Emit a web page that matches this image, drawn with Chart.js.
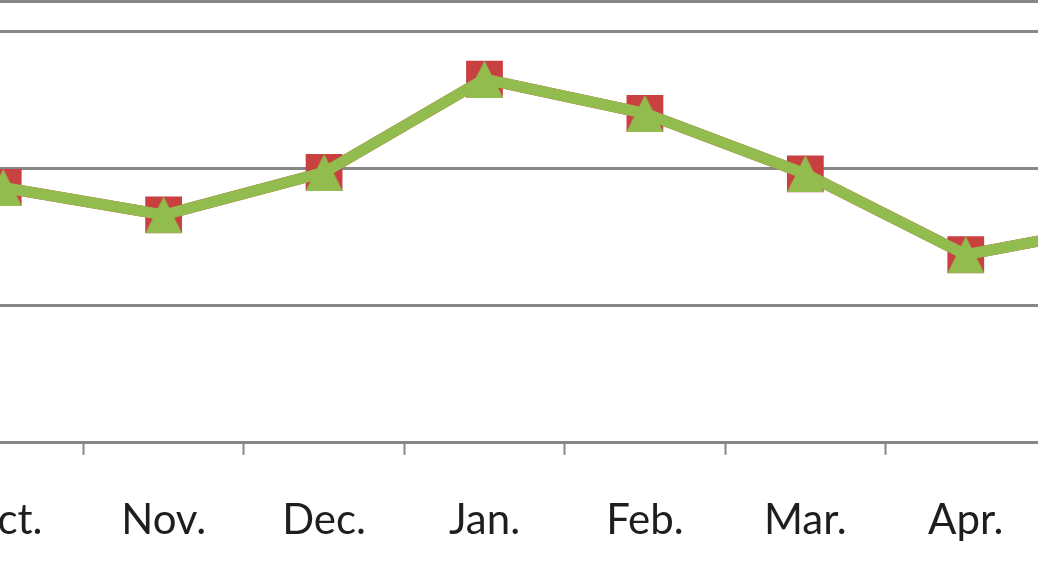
<!DOCTYPE html>
<html>
<head>
<meta charset="utf-8">
<script src="https://cdn.jsdelivr.net/npm/chart.js@4"></script>
<style>
    html, body { margin: 0; padding: 0; background: #fff; }
    #wrap { position: relative; width: 1038px; height: 576px; overflow: hidden; }
    #box { position: absolute; left: -77px; top: 0; width: 1284px; height: 615px; }
</style>
</head>
<body>
<div id="wrap"><div id="box"><canvas id="chart"></canvas></div></div>
<script>
const months = ['Oct.', 'Nov.', 'Dec.', 'Jan.', 'Feb.', 'Mar.', 'Apr.', 'May'];
const greenValues = [18.6, 16.6, 19.7, 26.5, 24.0, 19.6, 13.7, 15.9];
const redValues = [18.6, 16.6, 19.7, 26.5, 24.0, 19.6, 13.7, 15.9];
const yTop = 32.15;
const yStep = 10;

const colors = {
    green: '#92BC4E',
    red: '#C8403F',
    grid: '#868686',
    text: '#1E1E1E'
};

// triangle marker that fills the same box as the square one
function triangleMarker(size, color) {
    const c = document.createElement('canvas');
    c.width = size;
    c.height = size;
    const g = c.getContext('2d');
    g.fillStyle = color;
    g.beginPath();
    g.moveTo(0, size);
    g.lineTo(size / 2, 0);
    g.lineTo(size, size);
    g.closePath();
    g.fill();
    return c;
}

new Chart(document.getElementById('chart'), {
    type: 'line',
    data: {
        labels: months,
        datasets: [
            {
                data: greenValues,
                borderColor: colors.green,
                backgroundColor: colors.green,
                borderWidth: 11,
                pointStyle: triangleMarker(37, colors.green),
                tension: 0,
                clip: false
            },
            {
                data: redValues,
                borderColor: colors.red,
                backgroundColor: colors.red,
                borderWidth: 11,
                pointStyle: 'rect',
                pointRadius: 26,
                pointBorderWidth: 0,
                tension: 0,
                clip: false
            }
        ]
    },
    options: {
        responsive: true,
        maintainAspectRatio: false,
        animation: false,
        layout: { autoPadding: false, padding: { top: 1.5, bottom: 28.6, left: 0, right: 0 } },
        plugins: { legend: { display: false }, tooltip: { enabled: false } },
        scales: {
            x: {
                offset: true,
                grid: {
                    offset: true,
                    drawOnChartArea: false,
                    drawTicks: true,
                    tickLength: 12,
                    tickColor: colors.grid,
                    tickWidth: 2
                },
                border: { display: true, color: colors.grid, width: 3 },
                ticks: {
                    padding: 40.6,
                    color: colors.text,
                    font: { family: 'Lato', size: 42 }
                }
            },
            y: {
                min: 0,
                max: yTop,
                ticks: { display: false, stepSize: yStep },
                grid: { color: colors.grid, lineWidth: 3, drawTicks: false },
                border: { display: false }
            }
        }
    }
});
</script>
</body>
</html>
